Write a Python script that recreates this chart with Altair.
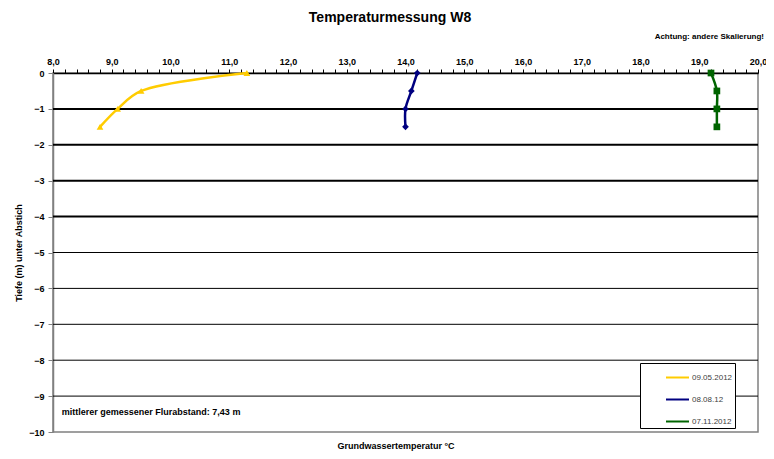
import altair as alt
import pandas as pd

# ---- data ----
depths = [0.0, -0.5, -1.0, -1.5]
t_may = [11.3, 9.5, 9.1, 8.8]
t_aug = [14.2, 14.1, 14.0, 14.0]
t_nov = [19.2, 19.3, 19.3, 19.3]
series = ["09.05.2012", "08.08.12", "07.11.2012"]
colors = ["#FFCC00", "#000080", "#006400"]
shapes = ["triangle-up", "diamond", "square"]

x_ticks = [round(8 + 0.2 * i, 1) for i in range(61)]
y_ticks = list(range(0, -11, -1))
grid_heavy = [-1, -2, -3, -4]
grid_light = [-5, -6, -7, -8, -9]

note_text = ["mittlerer gemessener Flurabstand: 7,43 m"]
note_x = [8.15]
note_y = [-9.45]

FONT = "Liberation Sans"

rows = []
for s, vals in zip(series, [t_may, t_aug, t_nov]):
    for d, v in zip(depths, vals):
        rows.append({"series": s, "depth": d, "temp": v})
df = pd.DataFrame(rows)

xscale = alt.Scale(domain=[8, 20], nice=False, zero=False)
yscale = alt.Scale(domain=[-10, 0], nice=False, zero=False)

x_axis = alt.Axis(
    orient="top", values=x_ticks, title=None, grid=False,
    labelExpr="abs(datum.value - round(datum.value)) < 0.001 ? replace(format(datum.value, '.1f'), '.', ',') : ''",
    labelOverlap=False, labelFlush=False,
    domainColor="black", domainWidth=1.5, tickColor="black", tickSize=4, tickWidth=1,
    labelFont=FONT, labelFontSize=9, labelFontWeight="bold", labelColor="black", labelPadding=3,
)
y_axis = alt.Axis(
    orient="left", values=y_ticks, format="d", title="Tiefe (m) unter Abstich", grid=False,
    domainColor="#808080", domainWidth=1.5, tickColor="#808080", tickSize=5,
    labelFont=FONT, labelFontSize=9, labelFontWeight="bold", labelColor="black", labelPadding=4,
    titleFont=FONT, titleFontSize=9, titleFontWeight="bold", titleColor="black", titlePadding=5,
)

X = alt.X("temp:Q", scale=xscale, axis=x_axis)
Y = alt.Y("depth:Q", scale=yscale, axis=y_axis)

legend = alt.Legend(
    orient="none", legendX=587, legendY=290, title=None,
    symbolType="stroke", symbolSize=529, symbolStrokeWidth=2,
    labelFont=FONT, labelFontSize=8, labelColor="#404040",
    labelExpr="datum.label + '\u2003\u2003\u2003'",
    fillColor="white", strokeColor="black", padding=2, rowPadding=5,
    symbolOffset=23, labelOffset=2,
)
color = alt.Color("series:N", scale=alt.Scale(domain=series, range=colors), legend=legend, sort=series)

heavy = alt.Chart(pd.DataFrame({"depth": grid_heavy})).mark_rule(color="black", strokeWidth=2).encode(y=Y)
light = alt.Chart(pd.DataFrame({"depth": grid_light})).mark_rule(color="black", strokeWidth=1).encode(y=Y)

lines = alt.Chart(df).mark_line(strokeWidth=2.5, interpolate="catmull-rom").encode(
    x=X, y=Y, color=color, order=alt.Order("depth:Q", sort="descending")
)

point_layers = []
for s, c, sh in zip(series, colors, shapes):
    point_layers.append(
        alt.Chart(df).transform_filter(alt.datum.series == s)
        .mark_point(filled=True, size=45, opacity=1, shape=sh, color=c)
        .encode(x=X, y=Y)
    )

note = alt.Chart(pd.DataFrame({"temp": note_x, "depth": note_y, "t": note_text})).mark_text(
    align="left", baseline="middle", font=FONT, fontSize=9, fontWeight="bold", color="black"
).encode(x=X, y=Y, text="t:N")

title = alt.Chart(pd.DataFrame({"t": ["Temperaturmessung W8"]})).mark_text(
    align="center", baseline="middle", font=FONT, fontSize=14, fontWeight="bold", color="black"
).encode(x=alt.value(337), y=alt.value(-55), text="t:N")

subtitle = alt.Chart(pd.DataFrame({"t": ["Achtung: andere Skalierung!"]})).mark_text(
    align="right", baseline="middle", font=FONT, fontSize=8, fontWeight="bold", color="black"
).encode(x=alt.value(711), y=alt.value(-36), text="t:N")

xtitle = alt.Chart(pd.DataFrame({"t": ["Grundwassertemperatur °C"]})).mark_text(
    align="center", baseline="middle", font=FONT, fontSize=9, fontWeight="bold", color="black"
).encode(x=alt.value(343), y=alt.value(373), text="t:N")

chart = alt.layer(heavy, light, lines, *point_layers, note, title, subtitle, xtitle).properties(
    width=705, height=359,
    autosize=alt.AutoSizeParams(type="none"),
    padding={"left": 45, "top": 65, "right": 8, "bottom": 19},
    background="white",
).configure_view(stroke="#808080", strokeWidth=1.5)

chart.save("out.html", embed_options={"renderer": "svg", "actions": False})
